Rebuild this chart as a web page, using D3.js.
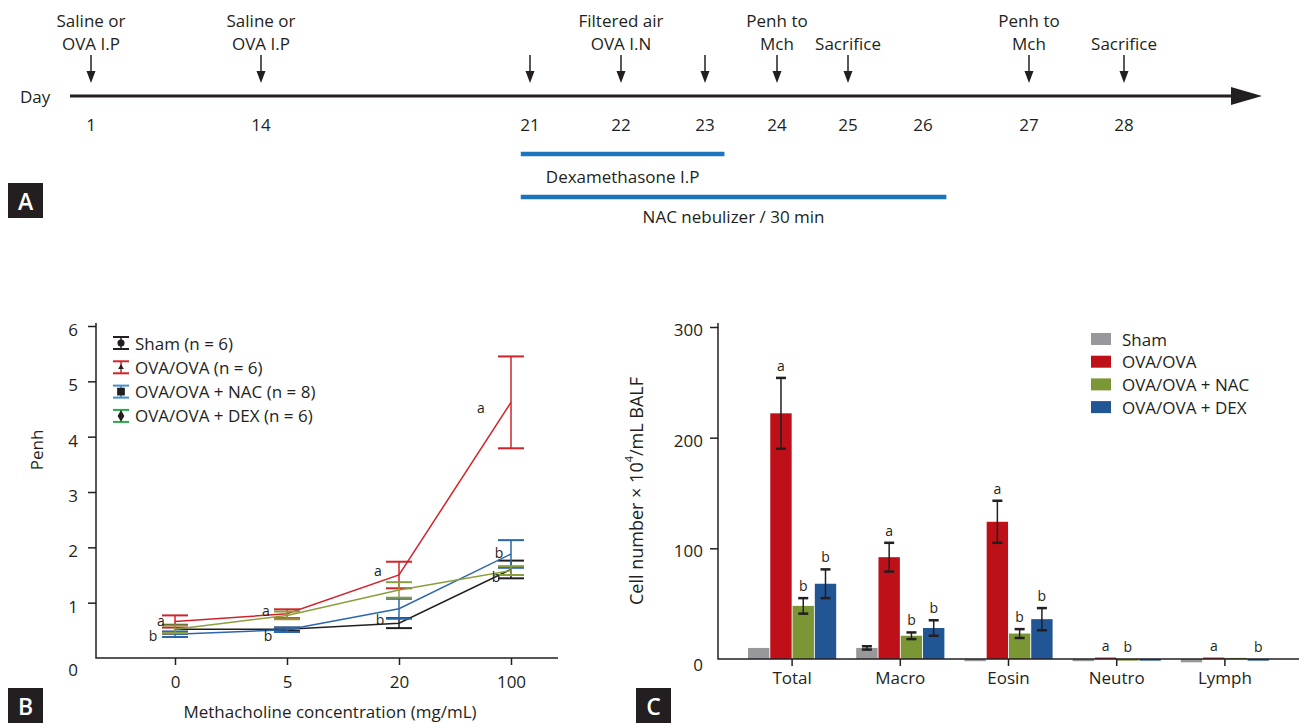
<!DOCTYPE html>
<html>
<head>
<meta charset="utf-8">
<script src="https://cdn.jsdelivr.net/npm/d3@7"></script>
<style>
body{margin:0;background:#fff}
text{font-family:"Open Sans",sans-serif;fill:#231f20;font-size:17px}
</style>
</head>
<body>
<div id="chart"></div>
<script>
// ---- panel A : protocol timeline
var dayTicks = [1, 14, 21, 22, 23, 24, 25, 26, 27, 28];
var eventDays = [1, 14, 21, 22, 23, 24, 25, 27, 28];
var eventLabels = [["Saline or", "OVA I.P"], ["Saline or", "OVA I.P"], [], ["Filtered air", "OVA I.N"], [],
                   ["Penh to", "Mch"], ["Sacrifice"], ["Penh to", "Mch"], ["Sacrifice"]];
var treatNames = ["Dexamethasone I.P", "NAC nebulizer / 30 min"];
var treatStart = [20.76, 20.76];
var treatEnd = [23.27, 26.22];

// ---- panel B : Penh
var doses = ["0", "5", "20", "100"];
var penhGroups = ["Sham (n = 6)", "OVA/OVA (n = 6)", "OVA/OVA + NAC (n = 8)", "OVA/OVA + DEX (n = 6)"];
var penhSham = [0.52, 0.52, 0.63, 1.60];
var penhOva  = [0.66, 0.80, 1.50, 4.62];
var penhNac  = [0.43, 0.51, 0.89, 1.88];
var penhDex  = [0.52, 0.77, 1.23, 1.58];
var semSham = [0.08, 0.03, 0.09, 0.16];
var semOva  = [0.11, 0.08, 0.24, 0.83];
var semNac  = [0.05, 0.04, 0.18, 0.25];
var semDex  = [0.07, 0.07, 0.14, 0.08];
var penhSigDose = ["0", "0", "5", "5", "20", "20", "100", "100", "100"];
var penhSigVal  = [0.67, 0.41, 0.86, 0.41, 1.59, 0.70, 4.52, 1.90, 1.48];
var penhSigText = ["a", "b", "a", "b", "a", "b", "a", "b", "b"];
var penhSigDx   = [-14, -22, -21, -19, -21, -19, -30, -12, -15];

// ---- panel C : BALF cells
var cellTypes = ["Total", "Macro", "Eosin", "Neutro", "Lymph"];
var cellGroups = ["Sham", "OVA/OVA", "OVA/OVA + NAC", "OVA/OVA + DEX"];
var cellSham = [10, 10, -2, -2, -3];
var cellOva  = [222, 92, 124, 1.3, 1.3];
var cellNac  = [48, 21, 23, -1.5, 1];
var cellDex  = [68, 28, 36, -1.5, -1.5];
var errSham = [0, 1.5, 0, 0, 0];
var errOva  = [32, 13, 19, 0, 0];
var errNac  = [7, 3, 4, 0, 0];
var errDex  = [13, 7, 10, 0, 0];
var sigSham = ["", "", "", "", ""];
var sigOva  = ["a", "a", "a", "a", "a"];
var sigNac  = ["b", "b", "b", "b", ""];
var sigDex  = ["b", "b", "b", "", "b"];

var ink = "#231f20";
var svg = d3.select("#chart").append("svg").attr("width", 1299).attr("height", 724);

function panelTag(x, y, t){
    svg.append("rect").attr("x", x).attr("y", y).attr("width", 35).attr("height", 35).attr("fill", ink);
    svg.append("text").attr("x", x + 17.5).attr("y", y + 18).attr("text-anchor", "middle")
        .attr("dominant-baseline", "central").style("fill", "#fff").style("font-size", "23px")
        .style("font-weight", "600").text(t);
}

// ================= A
var dayPos = [91, 261, 530, 621, 705, 777, 848, 923, 1029, 1124]; // schematic layout, not to scale
var xDay = d3.scaleLinear().domain(dayTicks).range(dayPos);
var gA = svg.append("g");
gA.append("line").attr("x1", 70).attr("x2", 1236).attr("y1", 96).attr("y2", 96)
    .attr("stroke", ink).attr("stroke-width", 3);
gA.append("path").attr("d", "M1231,87L1262,96L1231,105Z").attr("fill", ink);
gA.append("text").attr("x", 20).attr("y", 96).attr("dominant-baseline", "central").text("Day");
gA.selectAll(".dl").data(dayTicks).enter().append("text")
    .attr("x", d => xDay(d)).attr("y", 124).attr("text-anchor", "middle")
    .attr("dominant-baseline", "central").text(d => d);

var ev = gA.selectAll(".ev").data(eventDays).enter().append("g")
    .attr("transform", d => "translate(" + xDay(d) + ",0)");
ev.append("line").attr("y1", 55).attr("y2", 74).attr("stroke", ink).attr("stroke-width", 1.5);
ev.append("path").attr("d", "M-4.5,71L4.5,71L0,83Z").attr("fill", ink);
ev.each(function(d, i){
    var lab = eventLabels[i];
    var g = d3.select(this);
    lab.forEach(function(s, j){
        g.append("text").attr("x", 0).attr("y", 43 - (lab.length - 1 - j) * 23)
            .attr("text-anchor", "middle").attr("dominant-baseline", "central").text(s);
    });
});

var barY = [154, 197];
var labY = [176, 216];
treatNames.forEach(function(n, i){
    gA.append("line").attr("x1", xDay(treatStart[i])).attr("x2", xDay(treatEnd[i]))
        .attr("y1", barY[i]).attr("y2", barY[i]).attr("stroke", "#1c75bc").attr("stroke-width", 4.5);
    gA.append("text").attr("x", (xDay(treatStart[i]) + xDay(treatEnd[i])) / 2).attr("y", labY[i])
        .attr("text-anchor", "middle").attr("dominant-baseline", "central").text(n);
});
panelTag(8, 183, "A");

// ================= B
var xB = d3.scalePoint().domain(doses).range([175, 511]);
var yB = d3.scaleLinear().domain([0, 6]).range([658, 326]);
var gB = svg.append("g");

var yAxB = gB.append("g").attr("transform", "translate(96,0)")
    .call(d3.axisLeft(yB).tickValues([0, 1, 2, 3, 4, 5, 6]).tickFormat(d3.format("d")).tickSize(8).tickPadding(10));
yAxB.select(".domain").remove();
yAxB.selectAll("line").attr("stroke", ink).attr("stroke-width", 1.5);
yAxB.selectAll("text").style("font-size", "17px").attr("dy", "0.32em").attr("y", d => d === 0 ? 12 : 4);
yAxB.selectAll(".tick").filter(d => d === 0).select("line").remove();
var xAxB = gB.append("g").attr("transform", "translate(0,658)")
    .call(d3.axisBottom(xB).tickSize(7));
xAxB.select(".domain").remove();
xAxB.selectAll("line").attr("stroke", ink).attr("stroke-width", 1.5);
xAxB.selectAll("text").style("font-size", "17px").attr("y", 25).attr("dy", "0.32em");
gB.append("path").attr("d", "M96,323V658H558").attr("fill", "none").attr("stroke", ink).attr("stroke-width", 1.5);

gB.append("text").attr("transform", "translate(36,450) rotate(-90)").attr("text-anchor", "middle")
    .attr("dominant-baseline", "central").text("Penh");
gB.append("text").attr("x", 330).attr("y", 711).attr("text-anchor", "middle")
    .attr("dominant-baseline", "central").text("Methacholine concentration (mg/mL)");

var penhMeans = [penhSham, penhOva, penhNac, penhDex];
var penhSems = [semSham, semOva, semNac, semDex];
var lineCols = ["#231f20", "#d2232a", "#2b67ae", "#8a9f3c"];
var legCols = ["#231f20", "#d2232a", "#3f8fd2", "#2aa84a"];
var line = d3.line().x((d, i) => xB(doses[i])).y(d => yB(d));
penhMeans.forEach(function(m, k){
    gB.append("path").datum(m).attr("d", line).attr("fill", "none")
        .attr("stroke", lineCols[k]).attr("stroke-width", 1.5);
    var eb = gB.selectAll(".eb" + k).data(m).enter().append("g");
    eb.append("line").attr("x1", (d, i) => xB(doses[i])).attr("x2", (d, i) => xB(doses[i]))
        .attr("y1", (d, i) => yB(d - penhSems[k][i])).attr("y2", (d, i) => yB(d + penhSems[k][i]))
        .attr("stroke", lineCols[k]).attr("stroke-width", 1.5);
    [-1, 1].forEach(function(s){
        eb.append("line").attr("x1", (d, i) => xB(doses[i]) - 13).attr("x2", (d, i) => xB(doses[i]) + 13)
            .attr("y1", (d, i) => yB(d + s * penhSems[k][i])).attr("y2", (d, i) => yB(d + s * penhSems[k][i]))
            .attr("stroke", lineCols[k]).attr("stroke-width", 2);
    });
});
gB.selectAll(".sig").data(penhSigText).enter().append("text")
    .attr("x", (d, i) => xB(penhSigDose[i]) + penhSigDx[i]).attr("y", (d, i) => yB(penhSigVal[i]))
    .attr("text-anchor", "middle").attr("dominant-baseline", "central").style("font-size", "14px").text(d => d);

// legend B
var legB = gB.selectAll(".lg").data(penhGroups).enter().append("g")
    .attr("transform", (d, i) => "translate(121," + (343 + i * 24.3) + ")");
legB.append("line").attr("y1", -6).attr("y2", 6).attr("stroke", (d, i) => legCols[i]).attr("stroke-width", 1.5);
legB.append("line").attr("x1", -8).attr("x2", 8).attr("y1", -6).attr("y2", -6).attr("stroke", (d, i) => legCols[i]).attr("stroke-width", 2);
legB.append("line").attr("x1", -8).attr("x2", 8).attr("y1", 6).attr("y2", 6).attr("stroke", (d, i) => legCols[i]).attr("stroke-width", 2);
var symTypes = [d3.symbolCircle, d3.symbolTriangle, d3.symbolSquare, d3.symbolDiamond];
var symSizes = [40, 14, 60, 40];
legB.append("path").attr("d", (d, i) => d3.symbol().type(symTypes[i]).size(symSizes[i])()).attr("fill", ink);
legB.append("text").attr("x", 14).attr("dominant-baseline", "central").text(d => d);
panelTag(8, 688, "B");

// ================= C
var x0 = d3.scaleBand().domain(cellTypes).range([738, 1279]).paddingInner(0.185).paddingOuter(0.0925);
var x1 = d3.scaleBand().domain(cellGroups).range([0, x0.bandwidth()]).paddingInner(0.04);
var yC = d3.scaleLinear().domain([0, 300]).range([659, 327]);
var gC = svg.append("g");
var barCols = ["#98989c", "#bd1019", "#7b9634", "#225594"];
var cellVals = [cellSham, cellOva, cellNac, cellDex];
var cellErrs = [errSham, errOva, errNac, errDex];
var cellSigs = [sigSham, sigOva, sigNac, sigDex];

var yAxC = gC.append("g").attr("transform", "translate(718,0)")
    .call(d3.axisLeft(yC).tickValues([0, 100, 200, 300]).tickSize(8).tickPadding(7));
yAxC.select(".domain").remove();
yAxC.selectAll("line").attr("stroke", ink).attr("stroke-width", 1.5);
yAxC.selectAll("text").style("font-size", "17px").attr("dy", "0.32em").attr("y", d => d === 0 ? 6 : 3);
yAxC.selectAll(".tick").filter(d => d === 0).select("line").remove();

cellVals.forEach(function(vals, k){
    gC.selectAll(".bar" + k).data(vals).enter().append("rect")
        .attr("x", (d, i) => x0(cellTypes[i]) + x1(cellGroups[k]))
        .attr("width", x1.bandwidth())
        .attr("y", d => yC(Math.max(d, 0)))
        .attr("height", d => Math.abs(yC(d) - yC(0)))
        .attr("fill", barCols[k]);
});
cellVals.forEach(function(vals, k){
    vals.forEach(function(v, i){
        var e = cellErrs[k][i];
        var cx = x0(cellTypes[i]) + x1(cellGroups[k]) + x1.bandwidth() / 2;
        if (e > 0){
            gC.append("line").attr("x1", cx).attr("x2", cx).attr("y1", yC(v - e)).attr("y2", yC(v + e))
                .attr("stroke", ink).attr("stroke-width", 1.5);
            [-1, 1].forEach(function(s){
                gC.append("line").attr("x1", cx - 5).attr("x2", cx + 5)
                    .attr("y1", yC(v + s * e)).attr("y2", yC(v + s * e))
                    .attr("stroke", ink).attr("stroke-width", 2.5);
            });
        }
        if (cellSigs[k][i]){
            gC.append("text").attr("x", cx).attr("y", yC(Math.max(v + e, v, 0)) - 7)
                .attr("text-anchor", "middle").style("font-size", "14px").text(cellSigs[k][i]);
        }
    });
});

var xAxC = gC.append("g").attr("transform", "translate(0,659)")
    .call(d3.axisBottom(x0).tickSize(7));
xAxC.select(".domain").remove();
xAxC.selectAll("line").attr("stroke", ink).attr("stroke-width", 1.5);
xAxC.selectAll("text").style("font-size", "17px").attr("y", 20).attr("dy", "0.32em");
gC.append("path").attr("d", "M718,323V659H1299").attr("fill", "none").attr("stroke", ink).attr("stroke-width", 1.5);

var yl = gC.append("text").attr("transform", "translate(636,491) rotate(-90)").attr("text-anchor", "middle")
    .attr("dominant-baseline", "central").style("font-size", "18px");
yl.append("tspan").text("Cell number \u00d7 10");
yl.append("tspan").attr("baseline-shift", "super").style("font-size", "11px").text("4");
yl.append("tspan").text("/mL BALF");

var legC = gC.selectAll(".lc").data(cellGroups).enter().append("g")
    .attr("transform", (d, i) => "translate(1091," + (339 + i * 22.7) + ")");
legC.append("rect").attr("y", -6).attr("width", 20).attr("height", 12).attr("fill", (d, i) => barCols[i]);
legC.append("text").attr("x", 31).attr("dominant-baseline", "central").text(d => d);
panelTag(636, 688, "C");
</script>
</body>
</html>
